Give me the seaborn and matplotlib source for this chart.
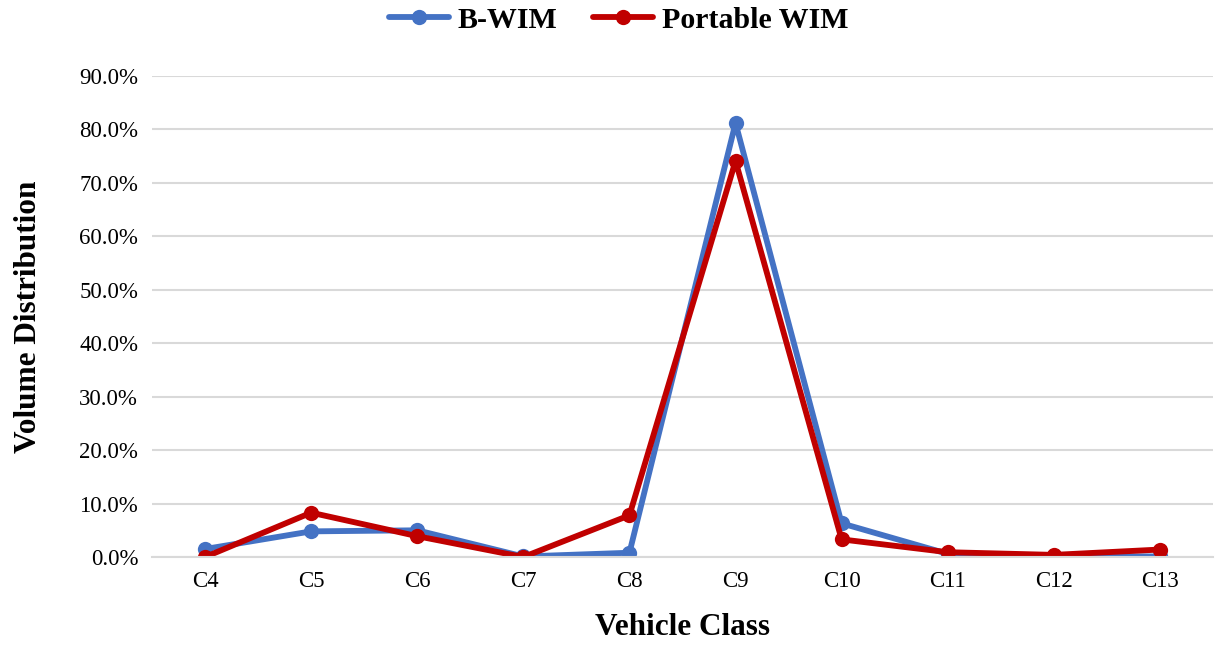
import matplotlib
matplotlib.use("Agg")
import matplotlib.pyplot as plt
import seaborn as sns
import pandas as pd
from matplotlib.ticker import PercentFormatter

classes = ["C4", "C5", "C6", "C7", "C8", "C9", "C10", "C11", "C12", "C13"]
bwim = [1.5, 4.8, 5.0, 0.1, 0.8, 81.2, 6.3, 0.6, 0.2, 0.1]
portable = [0.0, 8.3, 3.9, 0.0, 7.8, 74.1, 3.3, 0.9, 0.4, 1.4]

df = pd.DataFrame({
    "Vehicle Class": classes * 2,
    "Volume": bwim + portable,
    "Source": ["B-WIM"] * len(classes) + ["Portable WIM"] * len(classes),
})

sns.set_style("white")
plt.rcParams["font.family"] = ["Liberation Serif", "DejaVu Serif"]
plt.rcParams["text.color"] = "black"
plt.rcParams["axes.labelcolor"] = "black"
plt.rcParams["xtick.color"] = "black"
plt.rcParams["ytick.color"] = "black"

fig = plt.figure(figsize=(12.22, 6.48), dpi=100)
ax = fig.add_axes([0.1244, 0.1404, 0.8682, 0.7423])

sns.lineplot(data=df, x="Vehicle Class", y="Volume", hue="Source",
             palette={"B-WIM": "#4472C4", "Portable WIM": "#C00000"},
             marker="o", markersize=11, markeredgewidth=0,
             linewidth=4.2, sort=False, ax=ax)

ax.set_ylim(0, 90)
ax.set_xlim(-0.5, len(classes) - 0.5)
ax.set_yticks(range(0, 91, 10))
ax.yaxis.set_major_formatter(PercentFormatter(decimals=1))
ax.grid(axis="y", color="#d9d9d9", linewidth=1.5)
ax.set_axisbelow(True)
for s in ["top", "right", "left"]:
    ax.spines[s].set_visible(False)
ax.spines["bottom"].set_color("#d9d9d9")
ax.spines["bottom"].set_linewidth(1.5)
ax.tick_params(axis="both", length=0, labelsize=16.5, pad=10)

ax.set_xlabel("Vehicle Class", fontsize=22.5, fontweight="bold", labelpad=15)
ax.set_ylabel("Volume Distribution", fontsize=22.5, fontweight="bold", labelpad=26)

handles, labels = ax.get_legend_handles_labels()
ax.legend(handles, labels, loc="center", bbox_to_anchor=(0.44, 1.116),
          ncol=2, frameon=False, prop={"weight": "bold", "size": 21.5},
          handlelength=2.0, columnspacing=1.2, handletextpad=0.3)

fig.savefig("out.png", dpi=100)
